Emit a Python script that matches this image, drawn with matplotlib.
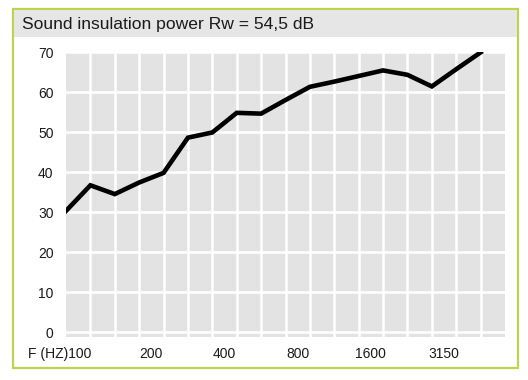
import matplotlib
matplotlib.use("Agg")
import matplotlib.pyplot as plt
from matplotlib.patches import Rectangle
import numpy as np

frequencies = ["100", "125", "160", "200", "250", "315", "400", "500", "630",
               "800", "1000", "1250", "1600", "2000", "2500", "3150", "4000", "5000"]
insulation_db = [30.3, 36.7, 34.5, 37.4, 39.8, 48.6, 49.9, 54.8, 54.6,
                 58.0, 61.3, 62.6, 64.0, 65.4, 64.3, 61.4, 65.7, 69.9]
label_freqs = ["100", "200", "400", "800", "1600", "3150"]
y_ticks = [0, 10, 20, 30, 40, 50, 60, 70]
title = "Sound insulation power Rw = 54,5 dB"
x_axis_name = "F (HZ)"

W, H = 528, 380
fig = plt.figure(figsize=(W / 100, H / 100), dpi=100)
fig.patch.set_facecolor("white")

def fx(px):
    return px / W

def fy(py):
    return 1 - py / H

FONT = ["Liberation Sans", "DejaVu Sans"]
green = "#bcd34e"
# outer green frame
fig.patches.append(Rectangle((fx(13), fy(368)), fx(518 - 13), (368 - 9) / H,
                             transform=fig.transFigure, facecolor="none",
                             edgecolor=green, linewidth=1.6, zorder=0))
# title band
fig.patches.append(Rectangle((fx(13.8), fy(37)), fx(517.2 - 13.8), (37 - 9.8) / H,
                             transform=fig.transFigure, facecolor="#e6e6e6",
                             edgecolor="none", zorder=0))
fig.text(fx(22), fy(24), title, fontsize=12.6, family=FONT,
         color="#1a1a1a", va="center", ha="left")

ax = fig.add_axes([fx(66), fy(337), fx(505 - 66), (337 - 52) / H])
ax.set_facecolor("#e3e3e3")
x = np.arange(len(frequencies))
ax.plot(x, insulation_db, color="black", linewidth=3.3, solid_joinstyle="miter",
        zorder=3, clip_on=True)
ax.set_xlim(0, len(frequencies))
ax.set_ylim(-1.2, 70)

ticks = [frequencies.index(f) + 0.5 for f in label_freqs]
ax.set_xticks(ticks)
ax.set_xticklabels([x_axis_name + label_freqs[0]] + label_freqs[1:])
ax.set_xticks(np.arange(1, len(frequencies)), minor=True)
ax.set_yticks(y_ticks)
ax.tick_params(axis="both", which="both", length=0)
ax.tick_params(axis="y", pad=9)
ax.tick_params(axis="x", pad=7)
for lab in ax.get_xticklabels() + ax.get_yticklabels():
    lab.set_family(FONT)
    lab.set_fontsize(10)
    lab.set_color("#1a1a1a")
# first label "F (HZ)100": right-align so that "100" sits in the first column
first = ax.get_xticklabels()[0]
first.set_horizontalalignment("right")
first.set_x(ticks[0])
import matplotlib.transforms as mtrans
first.set_transform(first.get_transform() + mtrans.ScaledTranslation(13 / 100, 0, fig.dpi_scale_trans))
ax.grid(True, which="minor", axis="x", color="white", linewidth=1.8)
ax.grid(True, which="major", axis="y", color="white", linewidth=1.8)
ax.grid(False, which="major", axis="x")
for s in ax.spines.values():
    s.set_visible(False)
ax.set_axisbelow(True)

fig.savefig("out.png", dpi=100)
